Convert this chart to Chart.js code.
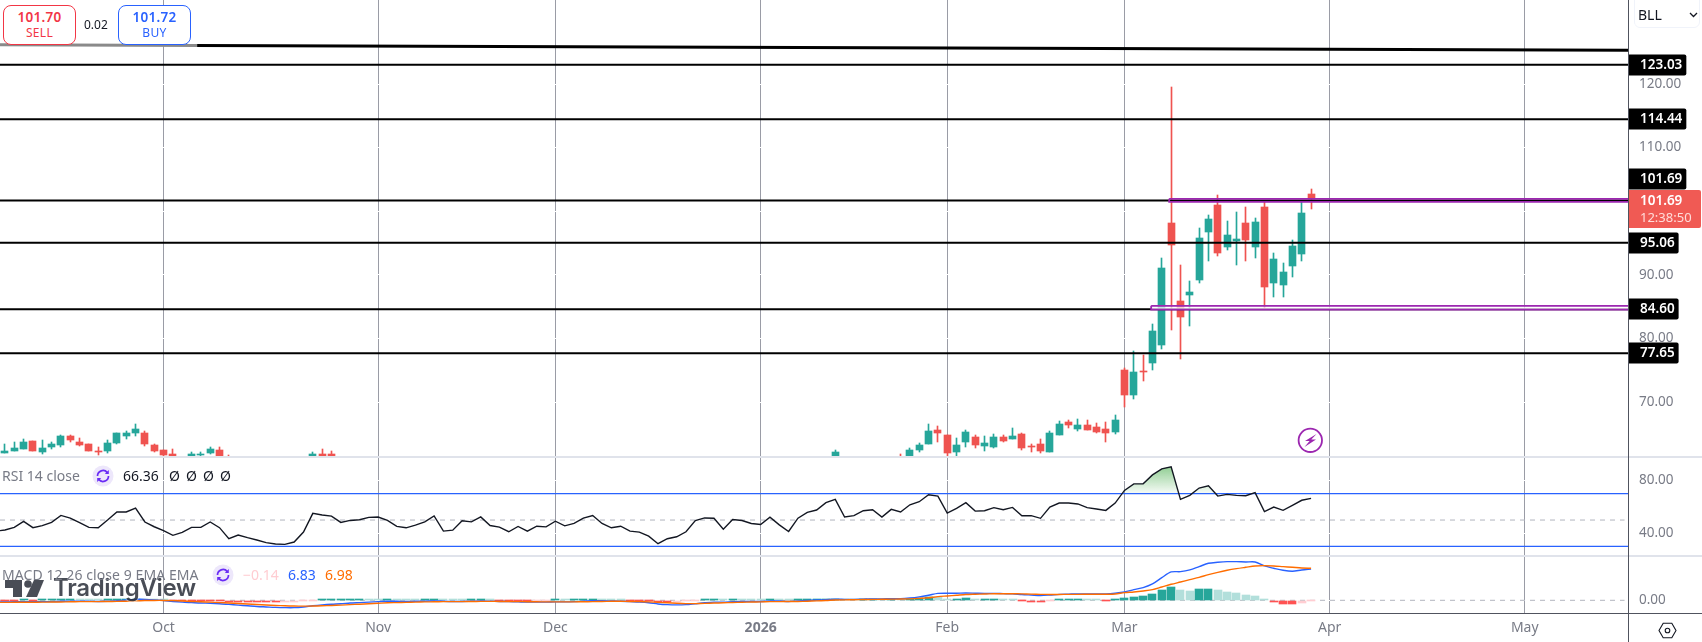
<!DOCTYPE html>
<html><head><meta charset="utf-8">
<script src="https://cdn.jsdelivr.net/npm/chart.js@4/dist/chart.umd.min.js"></script>
<style>
html,body{margin:0;padding:0;background:#fff;width:1702px;height:642px;overflow:hidden;font-family:"Noto Sans",sans-serif}
canvas{position:absolute;left:0;display:block}
.abs{position:absolute;white-space:nowrap}
.chip{position:absolute;top:5px;width:71px;height:38px;border:1px solid;border-radius:8px;background:#fff;text-align:center;box-sizing:content-box}
.chip b{display:block;font-size:13.5px;font-weight:600;line-height:17px;margin-top:3px;letter-spacing:.3px}
.chip span{display:block;font-size:12px;line-height:14px;letter-spacing:.3px}
.sep{position:absolute;left:0;width:1702px;height:2px;background:#e0e3eb}
.leg{position:absolute;font-size:14px;line-height:18px;color:#787b86;white-space:nowrap}
</style></head><body>
<canvas id="cMain" style="top:0px" width="1702" height="456"></canvas>
<canvas id="cRsi" style="top:457px" width="1702" height="98"></canvas>
<canvas id="cMacd" style="top:556px" width="1702" height="86"></canvas>

<div class="sep" style="top:456px"></div>
<div class="sep" style="top:555px"></div>
<div class="abs" style="left:1628px;top:0;width:1px;height:642px;background:#50535e"></div>
<div class="abs" style="left:0;top:613px;width:1702px;height:1px;background:#50535e"></div>

<div class="chip" style="left:3px;border-color:#f23645;color:#f23645"><b>101.70</b><span>SELL</span></div>
<div class="abs" style="left:84px;top:16px;font-size:12px;line-height:18px;color:#131722">0.02</div>
<div class="chip" style="left:118px;border-color:#2962ff;color:#2962ff"><b>101.72</b><span>BUY</span></div>

<div class="abs" style="left:1634px;top:-6px;width:66px;height:34px;border:1px solid #f0f3fa;border-radius:6px;box-sizing:border-box"></div>
<div class="abs" style="left:1638px;top:5px;font-size:14px;line-height:20px;color:#131722">BLL</div>
<svg class="abs" style="left:1689px;top:12px" width="9" height="6" viewBox="0 0 9 6"><path d="M1 1l3.5 3.5L8 1" fill="none" stroke="#131722" stroke-width="1.3"/></svg>

<svg class="abs" style="left:1296px;top:426px" width="29" height="29" viewBox="0 0 29 29"><circle cx="14.3" cy="14.3" r="11.7" fill="#fff" stroke="#9c27b0" stroke-width="1.8"/><path d="M20.5 8L9 15h4.6L8.5 21 20 13.6h-4.7z" fill="#9c27b0"/></svg>

<div class="abs" id="wm" style="left:5px;top:574px;height:30px;width:195px">
<svg class="abs" style="left:0;top:6px" width="40" height="18" viewBox="0 0 40 18" fill="#2a2e39" opacity=".85"><path d="M0 0h17v17H8V8H0z"/><circle cx="23" cy="4" r="3.8"/><path d="M29 0h10l-7 17H21z"/></svg>
<div class="abs" style="left:48px;top:-3px;font-family:Inter,sans-serif;font-weight:600;font-size:24px;line-height:34px;letter-spacing:-.3px;color:#2a2e39;opacity:.85;text-shadow:0 0 2px #fff,0 0 2px #fff">TradingView</div>
</div>

<div class="leg" style="left:2px;top:467px">RSI 14 close</div>
<svg class="abs" style="left:92px;top:465px" width="22" height="22" viewBox="0 0 22 22"><circle cx="11" cy="11" r="10.5" fill="#ede7fb"/><path d="M5.5 11a5.5 5.5 0 0 1 9.8-3.4M16.5 11a5.5 5.5 0 0 1-9.8 3.4" fill="none" stroke="#6a2cf5" stroke-width="1.7"/><path d="M16.8 5v4h-4zM5.2 17v-4h4z" fill="#6a2cf5"/></svg>
<div class="leg" style="left:123px;top:467px;color:#131722">66.36</div>
<div class="leg" style="left:169px;top:467px;color:#131722">Ø</div>
<div class="leg" style="left:186px;top:467px;color:#131722">Ø</div>
<div class="leg" style="left:203px;top:467px;color:#131722">Ø</div>
<div class="leg" style="left:220px;top:467px;color:#131722">Ø</div>

<div class="leg" style="left:2px;top:566px;letter-spacing:.08px">MACD 12 26 close 9 EMA EMA</div>
<svg class="abs" style="left:212px;top:564px" width="22" height="22" viewBox="0 0 22 22"><circle cx="11" cy="11" r="10.5" fill="#ede7fb"/><path d="M5.5 11a5.5 5.5 0 0 1 9.8-3.4M16.5 11a5.5 5.5 0 0 1-9.8 3.4" fill="none" stroke="#6a2cf5" stroke-width="1.7"/><path d="M16.8 5v4h-4zM5.2 17v-4h4z" fill="#6a2cf5"/></svg>
<div class="leg" style="left:243px;top:566px;color:#ffcdd2">−0.14</div>
<div class="leg" style="left:288px;top:566px;color:#2962ff">6.83</div>
<div class="leg" style="left:325px;top:566px;color:#ff6d00">6.98</div>

<svg class="abs" style="left:1658px;top:621px" width="19" height="19" viewBox="0 0 19 19"><path d="M5.2 2.2h8.6l4.2 7.3-4.2 7.3H5.2L1 9.5z" fill="none" stroke="#131722" stroke-width="1.1"/><circle cx="9.5" cy="9.5" r="2.3" fill="none" stroke="#131722" stroke-width="1.1"/></svg>

<script>
// ---------- data ----------
const barIdx = [-120,-119,-118,-117,-116,-115,-114,-113,-112,-111,-110,-109,-108,-107,-106,-105,-104,-103,-102,-100,-99,-98,-97,-96,-87,-86,-85,
  -31,-24,-23,-22,-21,-20,-19,-18,-17,-16,-15,-14,-13,-12,-11,-10,-9,-8,-7,-6,-5,-4,-3,-2,-1,
  0,1,2,3,4,5,6,7,8,9,10,11,12,13,14,15,16,17,18,19,20];
const opens = [62.03,62.29,62.61,63.86,62.13,62.92,63.23,64.65,63.71,63.39,62.29,62.29,63.55,64.65,65.12,65.12,63.23,62.45,61.82,61.2,61.66,61.98,62.45,61,61.2,61.82,61.82,
  61.2,61,61.2,62.45,63.39,65.59,64.81,62.13,63.71,64.49,63.08,62.92,64.49,64.18,64.96,63.08,63.39,62.13,64.81,66.85,65.75,66.38,66.06,65.75,65.28,
  75.03,71.10,74.87,76.13,78.96,98.14,85.88,86.82,89.18,96.73,100.97,94.37,95.31,98.14,94.37,100.66,88.71,88.39,91.38,93.27,102.70];
const highs = [63.39,63.65,64.18,63.86,64.02,63.71,64.81,64.81,64.34,63.39,62.92,64.02,65.12,65.44,66.54,65.44,63.39,62.45,62.61,62.13,62.13,62.92,62.92,61.66,62.13,62.61,62.29,
  62.45,61.82,62.82,63.60,66.54,66.22,64.81,64.34,65.59,64.81,64.65,64.96,64.81,65.91,65.12,63.39,64.18,65.44,67.01,67.17,67.32,67.17,66.69,66.85,67.95,
  75.29,78.02,77.39,82.26,92.64,119.52,91.54,89.02,97.36,99.40,102.54,98.46,99.87,100.66,98.93,101.60,93.42,91.85,95.47,101.44,103.49];
const lows = [62.03,62.29,62.61,62.29,61.82,62.61,62.92,63.71,63.08,62.29,61.66,61.98,63.39,64.18,64.65,63.08,62.13,61.4,61,61,61.3,61.82,61,60.5,61,61,61,
  61,60.5,61,62.19,63.39,63.71,61.5,61.5,62.92,62.76,62.29,62.76,63.76,64.18,62.45,62.13,61.98,62.13,64.81,65.91,65.44,65.59,65.12,63.71,64.96,
  69.21,70.47,73.30,75.03,78.33,81.32,76.76,81.95,88.71,92.17,92.95,93.90,91.54,92.17,92.64,84.72,86.51,86.51,89.65,92.17,100.34];
const closes = [62.29,62.76,63.71,62.29,62.76,63.39,64.65,64.02,63.23,62.29,62.13,63.55,65.12,65.12,65.75,63.39,62.29,61.66,61.2,61.82,61.82,62.61,61.2,60.7,61.82,61.2,61.2,
  62.13,60.7,62.45,63.23,65.44,65.12,61.98,63.23,65.28,63.23,63.55,64.49,63.86,64.65,62.76,62.92,62.29,65.12,66.54,66.38,66.38,65.59,65.28,65.12,67.17,
  71.10,74.71,74.71,81.16,91.07,94.68,83.36,87.29,95.78,98.77,93.42,96.26,95.63,95.47,98.30,88.08,92.48,90.44,94.53,99.71,101.91];

const rsiStart = -121;
const rsiValues = [41.6,
 42.4,44.4,49.0,44.2,45.7,48.2,53.5,51.5,48.0,44.4,
 44.2,50.0,56.1,56.1,59.1,48.5,44.9,41.9,38.4,40.6,
 44.4,44.4,48.5,44.2,35.8,38.6,36.6,34.8,32.8,31.8,
 31.5,33.3,40.9,55.1,53.8,53.0,48.2,49.7,50.2,52.0,
 52.3,49.7,45.2,44.1,46.1,48.6,53.1,41.6,42.3,49.4,
 48.6,52.4,45.8,44.6,41.1,45.1,41.6,45.3,44.8,49.1,
 45.6,47.4,51.4,53.4,47.4,44.1,45.3,41.6,40.8,37.8,
 32.0,35.8,37.3,41.1,49.6,51.6,51.4,43.1,50.4,49.6,
 47.4,46.6,52.1,46.3,41.3,51.4,55.8,57.6,63.2,65.7,
 52.3,53.3,57.1,57.8,52.3,58.1,56.1,61.6,63.9,69.2,
 68.2,55.3,58.9,63.2,56.8,57.1,59.4,57.8,59.6,53.3,
 53.3,51.3,59.9,62.9,62.9,62.2,59.4,58.4,57.3,62.9,
 72.5,77.5,77.5,84.3,88.9,90.4,65.7,68.7,74.3,76.0,
 68.2,69.5,68.7,68.5,70.8,56.4,59.9,57.4,61.2,65.0,
 66.5];

const macdValues = [-.36,
 -.35,-.33,-.3,-.3,-.3,-.28,-.22,-.18,-.18,-.22,
 -.25,-.22,-.1,.05,.2,.2,.1,-.05,-.25,-.4,
 -.5,-.6,-.65,-.75,-.9,-1.05,-1.2,-1.35,-1.45,-1.55,
 -1.6,-1.6,-1.45,-1.2,-1,-.85,-.75,-.6,-.5,-.4,
 -.3,-.2,-.2,-.25,-.22,-.2,-.12,-.2,-.25,-.25,
 -.2,-.15,-.2,-.25,-.3,-.35,-.4,-.4,-.4,-.35,
 -.35,-.3,-.2,-.1,-.1,-.15,-.2,-.3,-.4,-.55,
 -.8,-.95,-1,-.95,-.75,-.55,-.4,-.4,-.3,-.25,
 -.25,-.25,-.15,-.15,-.25,-.15,-.05,.05,.15,.25,
 .2,.2,.25,.3,.3,.35,.35,.5,.75,1.1,
 1.5,1.55,1.55,1.6,1.55,1.5,1.5,1.45,1.4,1.25,
 1.15,1.05,1.15,1.3,1.35,1.4,1.4,1.4,1.4,1.55,
 1.82,2.33,2.76,3.56,4.94,6.18,6.25,6.62,7.34,8.07,
 8.29,8.43,8.43,8.36,8.36,7.49,6.98,6.54,6.33,6.62,
 6.83];
const signalValues = [-.46,
 -.45,-.44,-.43,-.42,-.4,-.38,-.36,-.33,-.3,-.29,
 -.28,-.27,-.24,-.2,-.12,-.06,-.03,-.03,-.08,-.15,
 -.25,-.33,-.4,-.5,-.6,-.7,-.8,-.92,-1.02,-1.12,
 -1.2,-1.25,-1.27,-1.25,-1.2,-1.12,-1.05,-.95,-.85,-.75,
 -.65,-.55,-.5,-.45,-.4,-.35,-.32,-.3,-.3,-.28,
 -.26,-.24,-.24,-.25,-.27,-.29,-.31,-.33,-.35,-.35,
 -.35,-.34,-.32,-.28,-.25,-.22,-.22,-.25,-.28,-.35,
 -.45,-.55,-.65,-.72,-.72,-.68,-.6,-.55,-.48,-.42,
 -.38,-.34,-.3,-.28,-.27,-.25,-.2,-.12,-.05,.05,
 .1,.13,.17,.2,.22,.25,.27,.32,.42,.55,
 .8,.95,1.1,1.25,1.32,1.38,1.42,1.43,1.43,1.4,
 1.35,1.3,1.28,1.28,1.3,1.3,1.32,1.33,1.33,1.38,
 1.67,1.82,2.04,2.33,2.91,3.49,3.99,4.5,5.0,5.6,
 6.1,6.54,6.9,7.2,7.49,7.56,7.49,7.34,7.2,7.05,
 6.98];
const histValues = [-.1,
 -.1,-.1,.05,-.05,.1,.1,.2,.25,.15,.1,
 .05,.15,.25,.3,.3,.2,.1,.02,-.12,-.2,
 -.2,-.2,-.2,-.25,-.3,-.35,-.4,-.42,-.43,-.43,
 -.4,-.35,-.2,-.05,.1,.2,.3,.3,.35,.3,
 .25,.3,.25,.15,.1,.1,.2,.1,.05,.02,
 .06,.1,.04,-.02,-.05,-.1,-.12,-.1,-.08,.02,
 0,.05,.12,.18,.15,.07,.02,-.05,-.12,-.2,
 -.35,-.4,-.35,-.23,-.03,.13,.2,.15,.18,.17,
 .13,.09,.15,.13,.02,.1,.15,.17,.2,.2,
 .1,.07,.08,.1,.08,.15,.08,.2,.42,.7,
 .65,.35,.35,.4,.15,.15,.15,.05,.02,-.1,
 -.35,-.35,-.12,.08,.22,.22,.15,.05,-.1,.1,
 .51,.73,.95,1.38,2.25,2.9,2.25,2.04,2.47,2.47,
 2.25,1.82,1.6,1.16,.95,.07,-.36,-.8,-.8,-.58,
 -.14];

const levelPrices = [123.03,114.44,101.69,95.06,84.60,77.65];
const levelLabels = ["123.03","114.44","101.69","95.06","84.60","77.65"];
const levelLabelShift = [0,0,-21,0,0,0];
const trendX = [-120.53,-99.4,60];
const trendY = [126.16,126.05,125.29];
const zoneA = {from:4.79, top:101.95, bottom:101.46};
const zoneB = {from:2.86, top:85.13, bottom:84.54};
const lastPrice = 101.69, countdown = "12:38:50";
const monthIdx = [-103,-80,-61,-39,-19,0,22,42.9];
const monthNames = ["Oct","Nov","Dec","2026","Feb","Mar","Apr","May"];
const priceTicks = [70,80,90,100,110,120];
const rsiTicks = [40,80];
const macdTicks = [0];

// ---------- styles ----------
const UP="#26a69a", DOWN="#ef5350", TXT="#787b86", FONT='"Noto Sans",sans-serif';
const xMin=-120.53, xMax=53.97, AXIS_W=74;
Chart.defaults.font.family=FONT;

const snap={id:"snap",beforeDatasetsDraw(ch){
  ch.data.datasets.forEach((d,k)=>{const m=ch.getDatasetMeta(k);
    if(m.type!=="bar")return;
    m.data.forEach(el=>{
      const w=Math.round(el.width);
      el.x=(w%2)?Math.floor(el.x)+.5:Math.round(el.x);
      el.y=Math.round(el.y);el.base=Math.round(el.base);
      if(el.y===el.base)el.y-=1;
    });});
}};

function xScale(labels){return{type:"linear",min:xMin,max:xMax,offset:false,
  afterBuildTicks(s){s.ticks=monthIdx.map(v=>({value:v}));},
  afterFit(s){s.height=labels?29:0;s.paddingLeft=0;s.paddingRight=0;},
  border:{display:false},
  grid:{color:"#9a9ca6",lineWidth:1,drawTicks:false,drawOnChartArea:true,offset:false},
  ticks:labels?{autoSkip:false,maxRotation:0,minRotation:0,padding:7,color:TXT,
      font:c=>{const n=c.tick?monthNames[monthIdx.indexOf(c.tick.value)]:"";return{size:14,family:FONT,weight:n==="2026"?"bold":"normal"};},
      callback:v=>monthNames[monthIdx.indexOf(v)]}
    :{display:false}};}
function yScale(min,max,ticks,fmt){return{type:"linear",position:"right",min,max,
  afterBuildTicks(s){s.ticks=ticks.map(v=>({value:v}));},
  afterFit(s){s.width=AXIS_W;s.paddingTop=0;s.paddingBottom=0;},
  border:{display:false},
  grid:{color:"#ffffff",lineWidth:1,drawTicks:false},
  ticks:{padding:11,color:TXT,font:{size:13.5,family:FONT},autoSkip:false,align:"center",crossAlign:"near",callback:fmt||(v=>v.toFixed(2))}};}
const base=(x,y)=>({responsive:false,maintainAspectRatio:false,animation:false,
  devicePixelRatio:1,layout:{padding:0},
  plugins:{legend:{display:false},tooltip:{enabled:false}},
  scales:{x,y},events:[]});
const hline=(y,color,w,dash,x1,order)=>({type:"line",data:[{x:xMin,y},{x:x1===undefined?xMax:x1,y}],
  borderColor:color,borderWidth:w,borderDash:dash||[],pointRadius:0,order:order||1,fill:false,tension:0});
const zoneBox=(z)=>({type:"line",data:[{x:z.from,y:z.top},{x:60,y:z.top},{x:60,y:z.bottom},{x:z.from,y:z.bottom},{x:z.from,y:z.top}],
  borderColor:"#9c27b0",borderWidth:1.8,pointRadius:0,fill:false,tension:0,order:0});

// ---------- price pane ----------
const tagPlugin={id:"tags",afterDraw(ch){
  const c=ch.ctx,y=ch.scales.y;const X=1629;
  const tag=(txt,val,dy)=>{const py=Math.round(y.getPixelForValue(val))+dy;
    c.font='600 13.5px '+FONT;const w=c.measureText(txt).width+15;
    c.fillStyle="#000";c.beginPath();c.roundRect(X,py-10.5,w,21,[0,2,2,0]);c.fill();
    c.fillStyle="#fff";c.textAlign="left";c.textBaseline="middle";c.fillText(txt,X+11,py+.5);};
  levelPrices.forEach((p,i)=>tag(levelLabels[i],p,levelLabelShift[i]));
  const py=y.getPixelForValue(lastPrice);
  c.fillStyle="#f05a54";c.beginPath();c.roundRect(X,py-10.5,72,38,[0,2,2,0]);c.fill();
  c.textAlign="left";c.textBaseline="middle";c.fillStyle="#fff";c.font='600 13.5px '+FONT;
  c.fillText(lastPrice.toFixed(2),X+11,py+1);
  c.fillStyle="#ffdcd9";c.font='13px '+FONT;c.fillText(countdown,X+11,py+18);
}};
const candleColor=barIdx.map((_,i)=>closes[i]>=opens[i]?UP:DOWN);
const mainDS=[
  {type:"bar",data:barIdx.map((x,i)=>({x,y:[lows[i],highs[i]]})),backgroundColor:candleColor,barThickness:1,grouped:false,order:6},
  {type:"bar",data:barIdx.map((x,i)=>({x,y:[opens[i],closes[i]]})),backgroundColor:candleColor,barThickness:7,grouped:false,order:5},
  ...levelPrices.map(p=>hline(p,"#000",2,null,undefined,3)),
  {type:"line",data:[{x:trendX[1],y:trendY[1]},{x:trendX[2],y:trendY[2]}],borderColor:"#000",borderWidth:3,pointRadius:0,fill:false,tension:0,order:3},
  {type:"line",data:[{x:trendX[0],y:trendY[0]},{x:trendX[1],y:trendY[1]}],borderColor:"#8a8a8a",borderWidth:3,pointRadius:0,fill:false,tension:0,order:3},
  hline((zoneB.top+zoneB.bottom)/2,"rgba(255,255,255,.75)",2.6,null,undefined,2),
  zoneBox(zoneA),zoneBox(zoneB)
];
mainDS[mainDS.length-3].data[0].x=zoneB.from;
new Chart(document.getElementById("cMain"),{type:"bar",data:{datasets:mainDS},plugins:[snap,tagPlugin],
  options:base(xScale(false),yScale(61.51,133.21,priceTicks,v=>v===100?"":v.toFixed(2)))});

// ---------- RSI pane ----------
new Chart(document.getElementById("cRsi"),{type:"line",data:{datasets:[
  {data:rsiValues.map((y,i)=>({x:rsiStart+i,y})),borderColor:"#131722",borderWidth:1.4,pointRadius:0,tension:0,order:1,
   fill:{target:{value:70},below:"rgba(0,0,0,0)"},
   backgroundColor(c){const s=c.chart.scales.y;if(!s)return"rgba(0,0,0,0)";
     const a=s.getPixelForValue(90),b=s.getPixelForValue(70);
     if(!isFinite(a)||!isFinite(b))return"rgba(0,0,0,0)";
     const g=c.chart.ctx.createLinearGradient(0,a,0,b);
     g.addColorStop(0,"rgba(76,175,80,.6)");g.addColorStop(1,"rgba(76,175,80,.04)");return g;}},
  hline(70,"#2962ff",1.2,null,undefined,2),
  hline(30,"#2962ff",1.2,null,undefined,2),
  hline(50,"#b2b5be",1,[5,5],53.6,3)
]},options:base(xScale(false),yScale(23.44,97.88,rsiTicks))});

// ---------- MACD pane ----------
const histColor=histValues.map((v,i)=>{const p=i?histValues[i-1]:0;
  return v>=0?(v>=p?UP:"#b2dfdb"):(v<=p?"#ff5252":"#ffcdd2");});
new Chart(document.getElementById("cMacd"),{type:"bar",data:{datasets:[
  hline(0,"#b2b5be",1,[5,5],53.6,4),
  {type:"bar",data:histValues.map((y,i)=>({x:rsiStart+i,y})),backgroundColor:histColor,barThickness:8,grouped:false,order:3},
  {type:"line",data:macdValues.map((y,i)=>({x:rsiStart+i,y})),borderColor:"#2962ff",borderWidth:1.4,pointRadius:0,tension:.3,fill:false,order:2},
  {type:"line",data:signalValues.map((y,i)=>({x:rsiStart+i,y})),borderColor:"#ff6d00",borderWidth:1.4,pointRadius:0,tension:.3,fill:false,order:1}
]},plugins:[snap],options:base(xScale(true),yScale(-2.77,9.66,macdTicks))});
</script>
</body></html>
